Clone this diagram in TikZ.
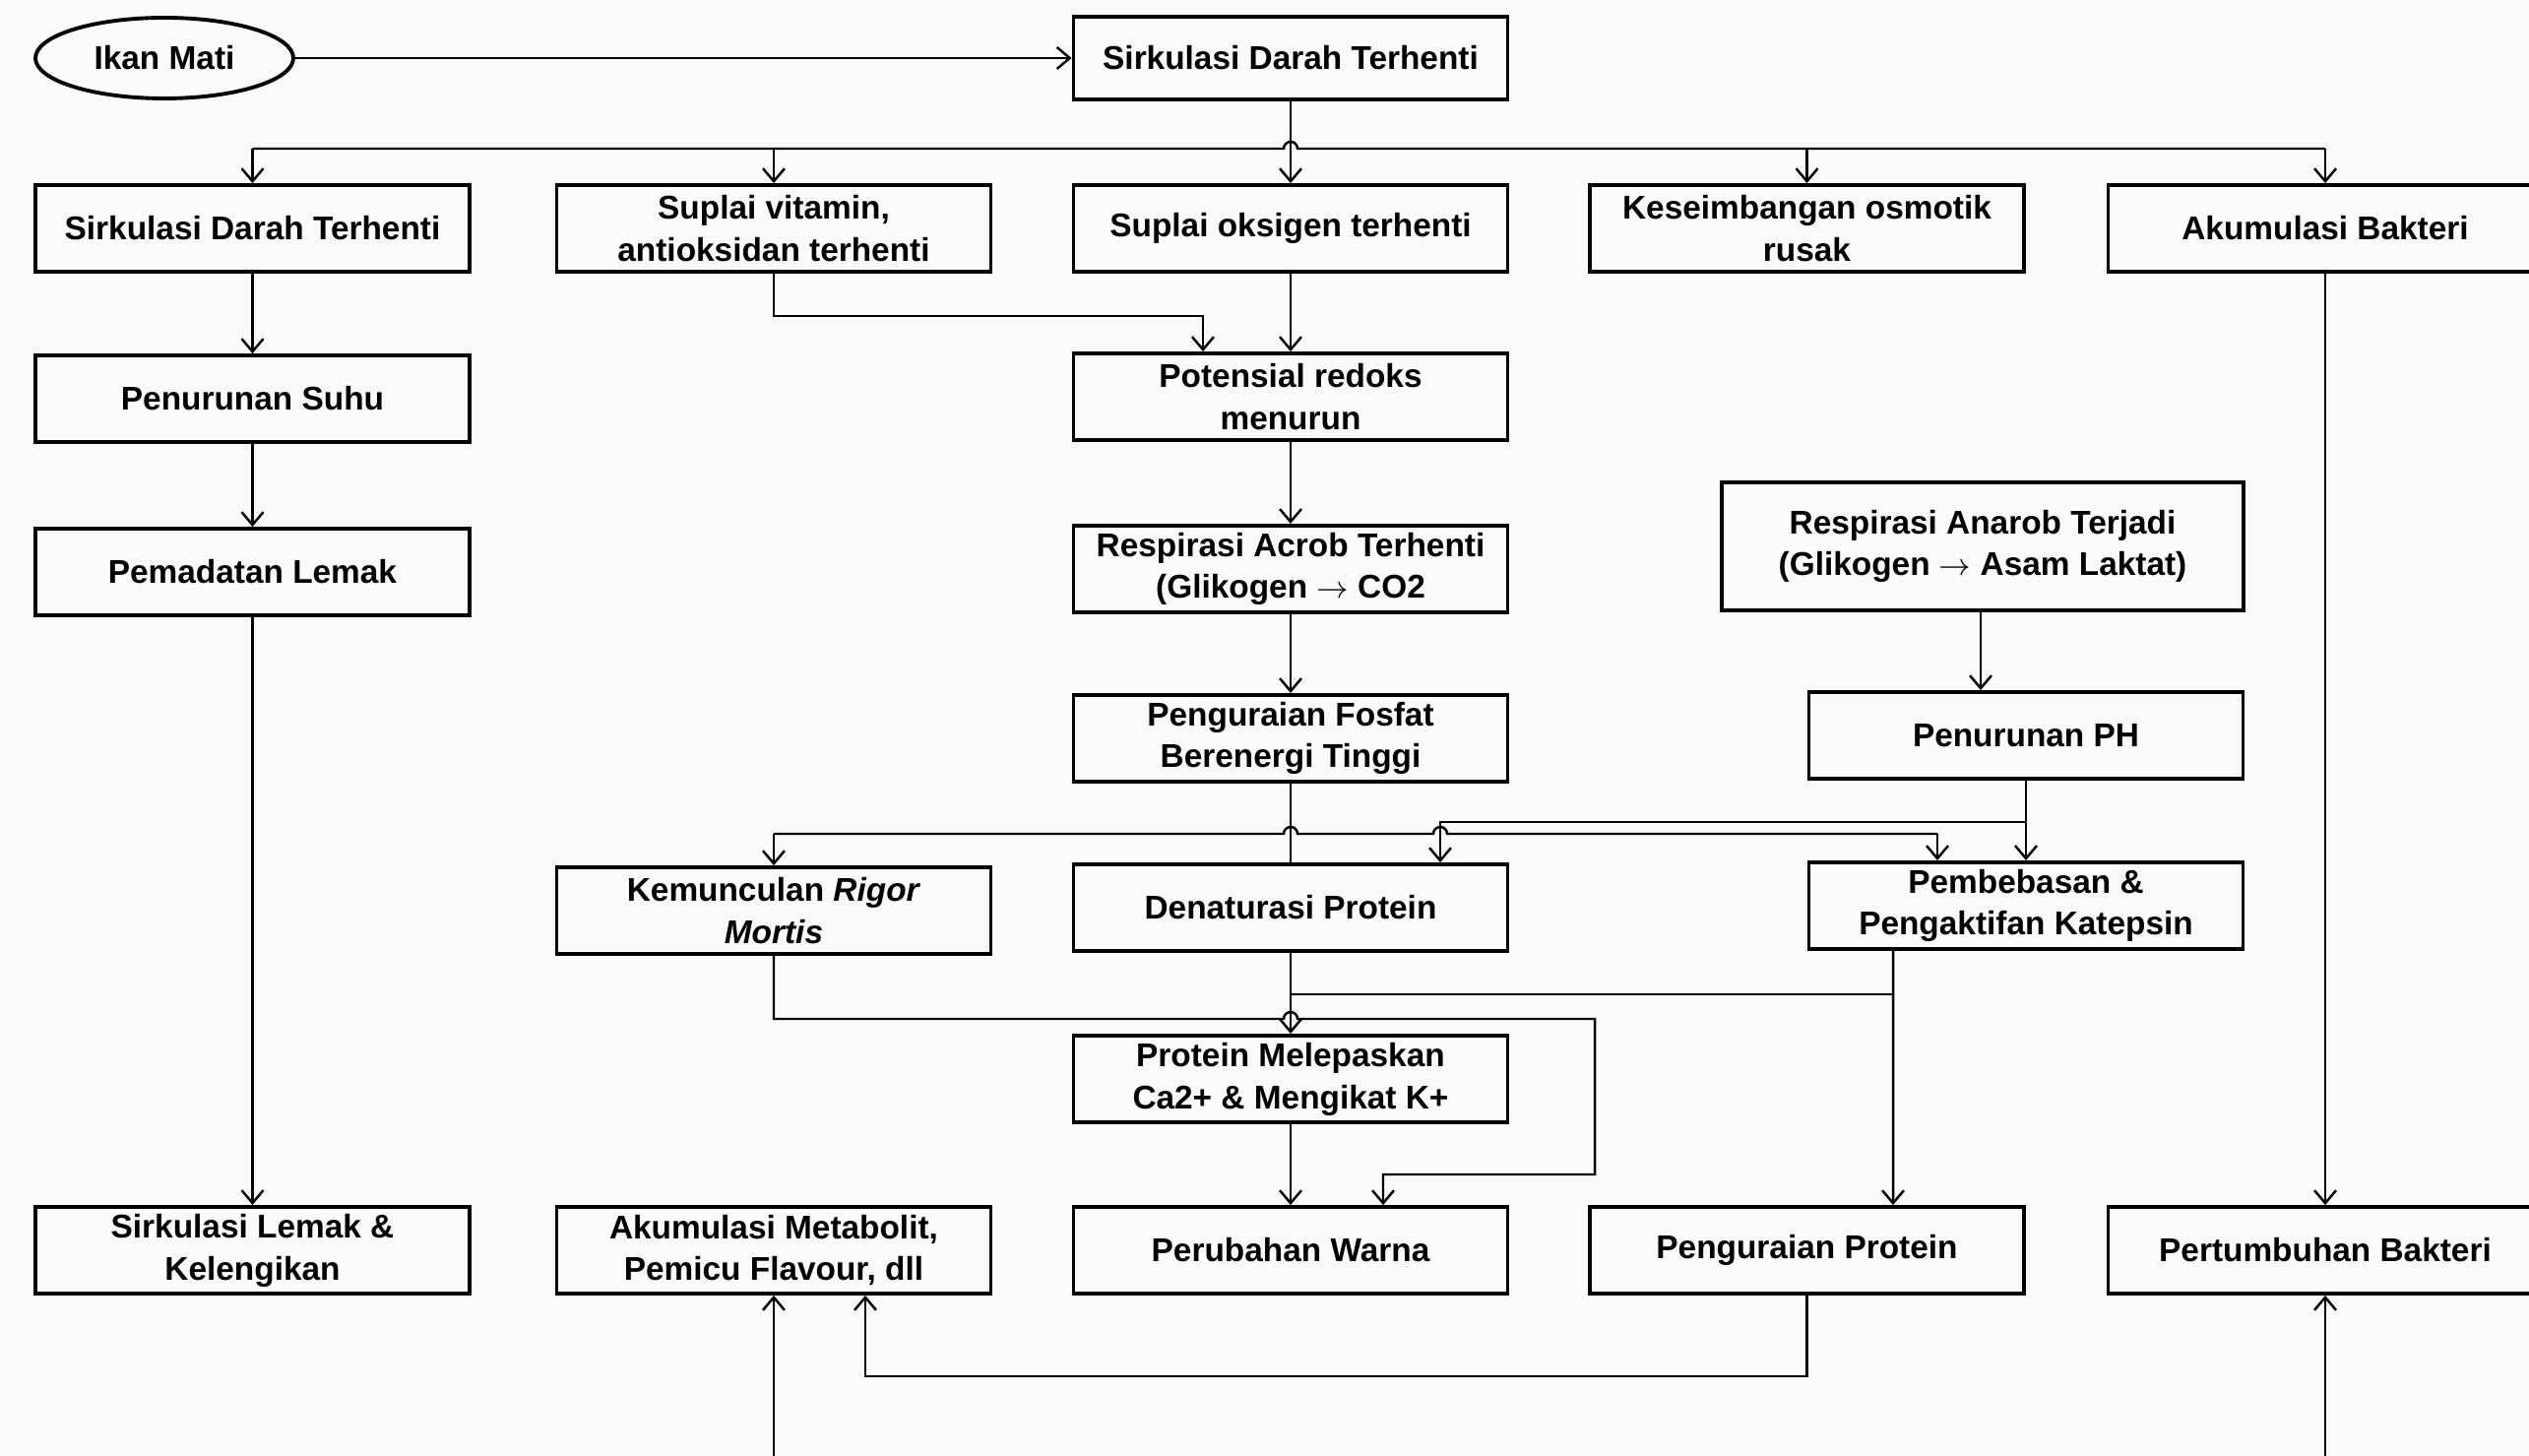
\documentclass[tikz,border=0pt]{standalone}
\usepackage{fontspec}
\setmainfont{Liberation Sans}
\usepackage{tikz}
\usetikzlibrary{arrows.meta,positioning,shapes.geometric,calc}
\tikzset{
  box/.style={draw,line width=1.1pt,minimum width=4.41cm,minimum height=0.88cm,%
    inner sep=2pt,align=center,font=\fontsize{9.5}{12.2}\selectfont\bfseries},
  oval/.style={ellipse,draw,line width=1.1pt,minimum width=2.62cm,minimum height=0.82cm,%
    inner sep=0pt,font=\fontsize{9.5}{12.2}\selectfont\bfseries},
  flow/.style={-{Straight Barb[length=1.3mm,width=2.2mm]},line width=0.7pt},
  link/.style={line width=0.7pt},
}

\begin{document}
\begin{tikzpicture}
\useasboundingbox (0,0) rectangle (25.69,-14.79);
\fill[black!2] (0,0) rectangle (25.69,-14.79);

% top row
\node[oval] (ikan) at (1.67,-0.59) {Ikan Mati};
\node[box,minimum height=0.84cm] (top) at (13.11,-0.59) {Sirkulasi Darah Terhenti};

% second row
\node[box] (b1) at (2.565,-2.32) {Sirkulasi Darah Terhenti};
\node[box] (b2) at (7.86,-2.32) {Suplai vitamin,\\antioksidan terhenti};
\node[box] (b3) at (13.11,-2.32) {Suplai oksigen terhenti};
\node[box] (b4) at (18.355,-2.32) {Keseimbangan osmotik\\rusak};
\node[box] (b5) at (23.62,-2.32) {Akumulasi Bakteri};

% left and middle column
\node[box] (suhu) at (2.565,-4.05) {Penurunan Suhu};
\node[box] (lemak) at (2.565,-5.81) {Pemadatan Lemak};
\node[box] (redoks) at (13.11,-4.03) {Potensial redoks\\menurun};
\node[box] (aerob) at (13.11,-5.78) {Respirasi Acrob Terhenti\\(Glikogen $\rightarrow$ CO2};
\node[box] (fosfat) at (13.11,-7.50) {Penguraian Fosfat\\Berenergi Tinggi};
\node[box] (rigor) at (7.86,-9.25) {Kemunculan \textit{Rigor}\\\textit{Mortis}};
\node[box] (denat) at (13.11,-9.22) {Denaturasi Protein};
\node[box] (kalsium) at (13.11,-10.96) {Protein Melepaskan\\Ca2+ \& Mengikat K+};

% right column
\node[box,minimum width=5.3cm,minimum height=1.30cm] (anaerob) at (20.14,-5.55)
  {Respirasi Anarob Terjadi\\(Glikogen $\rightarrow$ Asam Laktat)};
\node[box] (ph) at (20.58,-7.47) {Penurunan PH};
\node[box] (katepsin) at (20.58,-9.20) {Pembebasan \&\\Pengaktifan Katepsin};

% bottom row
\node[box] (sirklemak) at (2.565,-12.70) {Sirkulasi Lemak \&\\Kelengikan};
\node[box] (metabolit) at (7.86,-12.70) {Akumulasi Metabolit,\\Pemicu Flavour, dll};
\node[box] (warna) at (13.11,-12.70) {Perubahan Warna};
\node[box] (urai) at (18.355,-12.70) {Penguraian Protein};
\node[box] (tumbuh) at (23.62,-12.70) {Pertumbuhan Bakteri};

% bus levels
\coordinate (busA) at (13.11,-1.51);
\coordinate (busB) at (0,-8.47);
\coordinate (busC) at (0,-8.35);
\coordinate (busD) at (0,-10.10);
\coordinate (busE) at (0,-10.35);
\coordinate (busF) at (0,-11.93);
\coordinate (busG) at (0,-13.98);
\coordinate (bottom) at (0,-14.95);
\coordinate (bendR) at (16.20,-10.35);
\coordinate (dn) at ([xshift=1.52cm]denat.north);
\coordinate (kt) at ([xshift=-1.35cm]katepsin.south);

\draw[flow] (ikan) -- (top);
\draw[flow] (top) -- (b3);
\draw[link] (b1.north |- busA) -- ([xshift=-0.07cm]busA)
  arc[start angle=180,end angle=0,radius=0.07cm] -- (b5.north |- busA);
\foreach \n in {b1,b2,b4,b5}
  \draw[flow] (\n.north |- busA) -- (\n.north);

\draw[flow] (b1) -- (suhu);
\draw[flow] (suhu) -- (lemak);
\draw[flow] (lemak) -- (sirklemak);

\draw[flow] (b2.south) -- ++(0,-0.43) -| ([xshift=-0.89cm]redoks.north);
\draw[flow] (b3) -- (redoks);
\draw[flow] (redoks) -- (aerob);
\draw[flow] (aerob) -- (fosfat);
\draw[link] (fosfat) -- (denat);

\draw[flow] ([xshift=-0.02cm]anaerob.south) -- ([xshift=-0.02cm]anaerob.south |- ph.north);
\draw[flow] (ph) -- (katepsin);
\draw[flow] (ph.south |- busC) -| (dn);

% fosfat level line with hops
\draw[link] (rigor.north |- busB) -- ($(fosfat.south |- busB)+(-0.07,0)$)
  arc[start angle=180,end angle=0,radius=0.07cm] -- ($(dn |- busB)+(-0.07,0)$)
  arc[start angle=180,end angle=0,radius=0.07cm] -- ([xshift=-0.9cm]katepsin.north |- busB);
\draw[flow] (rigor.north |- busB) -- (rigor.north);
\draw[flow] ([xshift=-0.9cm]katepsin.north |- busB) -- ([xshift=-0.9cm]katepsin.north);

\draw[flow] (kt) -- ([xshift=0.875cm]urai.north);
\draw[link] (kt |- busD) -- (denat.south |- busD);
\draw[flow] (denat) -- (kalsium);
\draw[flow] (kalsium) -- (warna);

\draw[flow] (rigor.south) -- (rigor.south |- busE) -- ($(denat.south |- busE)+(-0.07,0)$)
  arc[start angle=180,end angle=0,radius=0.07cm] -- (bendR) -- (bendR |- busF)
  -| ([xshift=0.94cm]warna.north);

\draw[flow] (urai.south) -- (urai.south |- busG) -| ([xshift=0.93cm]metabolit.south);
\draw[flow] (metabolit.south |- bottom) -- (metabolit.south);
\draw[flow] (b5) -- (tumbuh);
\draw[flow] (tumbuh.south |- bottom) -- (tumbuh.south);
\end{tikzpicture}
\end{document}
